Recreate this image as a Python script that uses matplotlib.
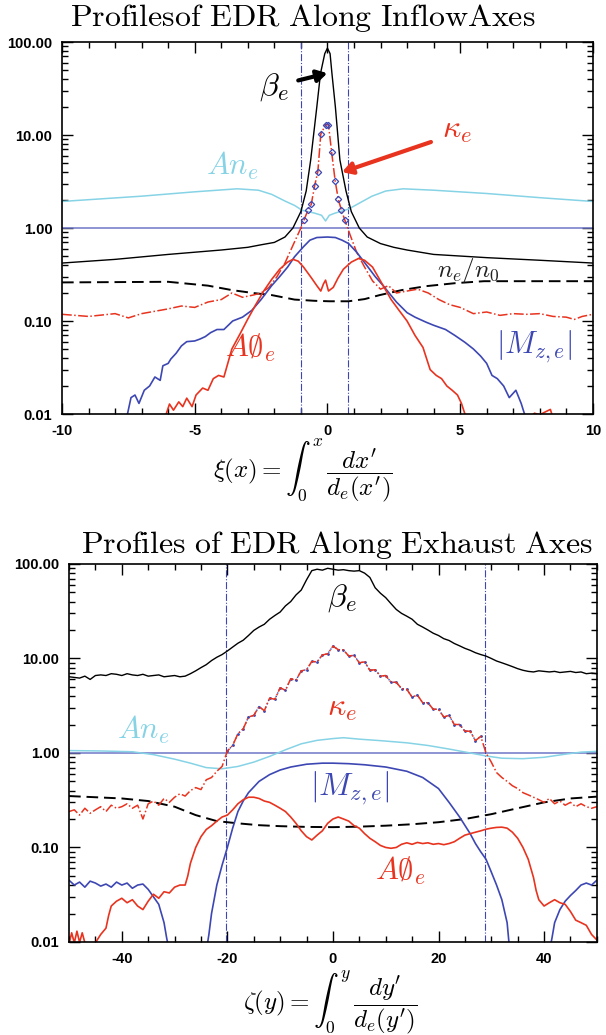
import numpy as np
import matplotlib
matplotlib.use("Agg")
import matplotlib.pyplot as plt
from matplotlib.ticker import MultipleLocator, LogLocator, FixedLocator, FormatStrFormatter, NullFormatter

plt.rcParams['mathtext.fontset'] = 'cm'
plt.rcParams['font.family'] = ['Liberation Sans', 'DejaVu Sans']
plt.rcParams['axes.unicode_minus'] = False

RED = '#e8331f'
BLUE = '#3d47b3'
CYAN = '#86d3e6'
REFBLUE = '#6f76c6'

# ---------------- inflow (top) panel ----------------
beta_in_x = [-10, -8, -6, -4, -3, -2.5, -2, -1.6, -1.3, -1.0, -0.8, -0.63, -0.4, -0.26, -0.1, 0,
             0.1, 0.17, 0.3, 0.47, 0.7, 0.9, 1.2, 1.5, 2, 2.5, 3, 4, 6, 8, 10]
beta_in_y = [0.42, 0.46, 0.52, 0.58, 0.62, 0.66, 0.7, 0.8, 1.0, 1.5, 2.5, 5.4, 20, 46, 75, 86,
             75, 46, 20, 5.4, 2.5, 1.5, 1.0, 0.8, 0.68, 0.62, 0.58, 0.52, 0.48, 0.45, 0.42]

ane_in_x = [-10, -7, -5, -3.4, -2.6, -2.1, -1.6, -1.24, -0.95, -0.5, -0.22, -0.07, 0.07, 0.3, 0.8,
            1.2, 1.68, 2.2, 2.85, 4, 6, 8, 10]
ane_in_y = [1.93, 2.2, 2.45, 2.64, 2.55, 2.3, 1.95, 1.75, 1.55, 1.45, 1.37, 1.19, 1.37, 1.45, 1.6,
            1.85, 2.2, 2.5, 2.64, 2.55, 2.35, 2.12, 1.93]

kappa_in_x = [-10, -9, -8, -7.5, -7, -6, -5.5, -5, -4.5, -4, -3.6, -3.2, -2.8, -2.5, -2.2, -1.9,
              -1.6, -1.3, -1.0, -0.876, -0.73, -0.61, -0.48, -0.36, -0.25, -0.07, 0.04, 0.16,
              0.29, 0.41, 0.53, 0.66, 0.85, 1.1, 1.4, 1.7, 2.0, 2.3, 2.6, 3.0, 3.4, 3.8, 4.2,
              4.6, 5.0, 5.5, 6.0, 6.5, 7.0, 7.5, 8.0, 8.5, 9.0, 9.3, 9.6, 10]
kappa_in_y = [0.118, 0.112, 0.12, 0.108, 0.12, 0.135, 0.145, 0.14, 0.16, 0.17, 0.2, 0.18, 0.19,
              0.2, 0.23, 0.3, 0.42, 0.65, 1.0, 1.23, 1.57, 1.79, 2.86, 4.05, 10.2, 12.9, 12.9,
              6.5, 3.24, 2.03, 1.55, 1.21, 0.85, 0.55, 0.38, 0.27, 0.22, 0.24, 0.2, 0.21, 0.22,
              0.2, 0.17, 0.15, 0.14, 0.12, 0.125, 0.115, 0.12, 0.118, 0.12, 0.112, 0.11, 0.104,
              0.112, 0.118]

aphi_in_x = [-6.1, -5.95, -5.8, -5.6, -5.45, -5.3, -5.1, -4.95, -4.7, -4.5, -4.3, -4.1, -3.9, -3.6,
             -3.3, -3.0, -2.7, -2.4, -2.1, -1.8, -1.5, -1.3, -1.1, -0.9, -0.6, -0.4, -0.25,
             -0.15, -0.07, 0.04, 0.22, 0.4, 0.6, 0.9, 1.17, 1.4, 1.7, 2.1, 2.4, 2.7, 3.0, 3.3,
             3.6, 3.87, 4.1, 4.3, 4.5, 4.7, 4.9, 5.05, 5.18, 5.25, np.nan,
             7.6, 7.8, 8.0, 8.2, 8.4, 8.5]
aphi_in_y = [0.0095, 0.0128, 0.011, 0.0135, 0.012, 0.0148, 0.012, 0.016, 0.019, 0.018, 0.024,
             0.026, 0.025, 0.05, 0.072, 0.105, 0.15, 0.21, 0.28, 0.36, 0.43, 0.46, 0.44, 0.38,
             0.29, 0.24, 0.21, 0.25, 0.275, 0.21, 0.23, 0.29, 0.36, 0.43, 0.47, 0.45, 0.38,
             0.24, 0.17, 0.13, 0.1, 0.07, 0.052, 0.03, 0.026, 0.024, 0.02, 0.018, 0.016, 0.013,
             0.01, 0.008, np.nan,
             0.009, 0.0102, 0.0098, 0.0105, 0.0112, 0.009]

mz_in_x = [-7.55, -7.4, -7.25, -7.1, -6.9, -6.7, -6.5, -6.3, -6.2, -6.0, -5.9, -5.7, -5.5, -5.3,
           -5.0, -4.8, -4.6, -4.4, -4.16, -3.9, -3.57, -3.2, -2.85, -2.5, -2.1, -1.8, -1.5,
           -1.24, -0.9, -0.66, -0.4, 0, 0.3, 0.55, 0.8, 1.1, 1.53, 1.8, 2.1, 2.6, 3.0, 3.3,
           3.72, 4.0, 4.45, 4.8, 5.18, 5.5, 5.77, 6.0, 6.2, 6.4, 6.64, 6.85, 7.1, 7.3, 7.45]
mz_in_y = [0.0095, 0.015, 0.016, 0.013, 0.018, 0.02, 0.025, 0.023, 0.033, 0.035, 0.039, 0.045,
           0.054, 0.06, 0.061, 0.064, 0.068, 0.075, 0.081, 0.081, 0.1, 0.11, 0.13, 0.17, 0.24,
           0.3, 0.38, 0.49, 0.63, 0.74, 0.79, 0.8, 0.79, 0.74, 0.68, 0.55, 0.38, 0.3, 0.24,
           0.16, 0.123, 0.11, 0.097, 0.09, 0.081, 0.07, 0.059, 0.05, 0.042, 0.035, 0.026,
           0.024, 0.02, 0.015, 0.018, 0.013, 0.0095]

ne_in_x = [-10, -8, -6, -4.5, -3.6, -2.8, -2.1, -1.24, -0.5, 0.07, 0.8, 1.4, 1.97, 2.8, 3.72, 4.8,
           5.9, 8, 10]
ne_in_y = [0.26, 0.262, 0.264, 0.24, 0.215, 0.2, 0.19, 0.17, 0.165, 0.163, 0.163, 0.172, 0.19,
           0.215, 0.237, 0.255, 0.268, 0.268, 0.268]

sep_in = [-0.98, 0.77]

# ---------------- exhaust (bottom) panel ----------------
ex_x = list(range(-50, 51))
beta_ex_y = [6.4, 6.3, 6.2, 6.5, 6.0, 6.6, 6.7, 6.6, 6.9, 6.8, 6.6, 6.9, 6.7, 6.6, 6.8, 6.5, 6.6,
             6.7, 6.4, 6.5, 6.6, 6.4, 6.5, 6.9, 7.4, 8.0, 8.6, 9.5, 10.3, 11.0, 12.0, 13.2, 14.5,
             15.6, 17.5, 19.8, 21.5, 23.0, 26.0, 28.5, 31.0, 36.0, 40.0, 47.0, 53.0, 68.0, 85.0,
             88.0, 86.0, 90.0, 88.0, 86.0, 87.0, 85.0, 84.0, 85.0, 80.0, 72.0, 56.0, 49.0, 44.0,
             38.0, 33.0, 30.0, 28.0, 26.0, 23.0, 21.5, 20.0, 18.5, 17.5, 16.2, 15.5, 14.4, 13.6,
             12.8, 12.2, 11.5, 11.0, 10.6, 10.0, 9.4, 9.0, 8.6, 8.2, 7.8, 7.5, 7.3, 7.2, 7.4, 7.3,
             7.2, 7.3, 7.1, 7.2, 7.3, 7.1, 7.2, 6.9, 7.0, 6.9]
kappa_ex_y = [0.24, 0.25, 0.22, 0.26, 0.23, 0.25, 0.27, 0.24, 0.28, 0.26, 0.27, 0.29, 0.26, 0.28,
              0.2, 0.29, 0.31, 0.28, 0.33, 0.30, 0.34, 0.37, 0.35, 0.40, 0.43, 0.41, 0.52, 0.55,
              0.64, 0.72, 1.05, 1.2, 1.6, 1.8, 2.4, 2.5, 3.1, 2.8, 3.8, 3.7, 4.9, 4.6, 6.1, 5.9,
              7.4, 7.6, 9.3, 9.2, 10.9, 11.2, 13.5, 12.4, 12.3, 10.6, 10.8, 9.0, 9.2, 7.5, 7.6,
              6.5, 6.6, 5.6, 5.6, 4.8, 4.7, 3.9, 4.1, 3.4, 3.4, 2.9, 2.9, 2.4, 2.5, 2.0, 2.0,
              1.7, 1.7, 1.35, 1.5, 1.0, 0.8, 0.62, 0.55, 0.5, 0.45, 0.42, 0.38, 0.36, 0.34, 0.32,
              0.3, 0.33, 0.29, 0.31, 0.28, 0.3, 0.27, 0.29, 0.27, 0.26, 0.27]

ane_ex_x = [-50, -44, -38, -34, -30, -27, -24, -21, -18, -15, -12, -9, -6, -3, 0, 2, 5, 9, 14, 18,
            22, 26, 29, 32, 36, 40, 44, 47, 50]
ane_ex_y = [1.06, 1.05, 1.03, 0.96, 0.86, 0.78, 0.7, 0.68, 0.72, 0.8, 0.92, 1.08, 1.25, 1.36, 1.42,
            1.45, 1.4, 1.35, 1.28, 1.2, 1.1, 1.0, 0.93, 0.88, 0.87, 0.9, 0.97, 1.02, 1.04]

mz_ex_x = [-50, -49, -48, -47, -46, -45, -44, -43, -42, -41, -40, -39, -38, -37, -36, -35, -34, -33,
           -32, -31.5, -31, np.nan,
           -24, -23.5, -23, -22, -21, -20, -19, -18, -17, -16, -14, -12, -10, -8, -5, -2, 0, 3,
           6, 10, 14, 17, 20, 22, 24, 26, 27, 28, 29, 30, 31, 32, 33, 33.5, np.nan,
           41, 41.5, 42, 43, 44, 45, 46, 47, 48, 49, 50]
mz_ex_y = [0.045, 0.04, 0.043, 0.038, 0.044, 0.042, 0.039, 0.041, 0.038, 0.043, 0.040, 0.042,
           0.037, 0.04, 0.041, 0.036, 0.03, 0.025, 0.016, 0.011, 0.008, np.nan,
           0.008, 0.012, 0.02, 0.04, 0.065, 0.1, 0.16, 0.24, 0.31, 0.38, 0.5, 0.59, 0.66, 0.71,
           0.76, 0.78, 0.78, 0.77, 0.75, 0.71, 0.64, 0.55, 0.42, 0.3, 0.21, 0.14, 0.11, 0.09,
           0.075, 0.055, 0.04, 0.028, 0.016, 0.008, np.nan,
           0.008, 0.011, 0.016, 0.022, 0.027, 0.031, 0.035, 0.04, 0.042, 0.04, 0.045]

aphi_ex_x = [-50, -49.5, -49, -48.5, -48, -47.5, -47, -46, -45, -44, -43, -42.5, -42, -41, -40,
             -39, -38, -37, -36, -35, -34, -33, -32, -31, -30, -29, -28, -27.5, -27, -26, -25,
             -24, -23, -22, -21, -20, -19, -18, -17, -16, -15, -14, -13, -12, -11, -10, -9, -8,
             -7, -6, -5, -4, -3, -2, -1, 0, 1, 2, 3, 4, 5, 6, 7, 8, 9, 10, 11, 12, 13, 14, 15,
             16, 17, 18, 19, 20, 21, 22, 23, 24, 25, 26, 27, 28, 29, 30, 31, 32, 33, 34, 35, 36,
             37, 38, 38.5, 39, 40, 41, 42, 43, 44, 45, 46, 47, 48, 49, 50]
aphi_ex_y = [0.0095, 0.0125, 0.0098, 0.013, 0.0099, 0.0125, 0.0098, 0.009, 0.0098, 0.012, 0.014,
             0.019, 0.024, 0.027, 0.029, 0.026, 0.028, 0.024, 0.022, 0.027, 0.032, 0.029, 0.034,
             0.033, 0.038, 0.04, 0.04, 0.05, 0.068, 0.1, 0.13, 0.155, 0.17, 0.19, 0.21, 0.22,
             0.25, 0.29, 0.32, 0.34, 0.34, 0.33, 0.31, 0.30, 0.28, 0.26, 0.24, 0.21, 0.18, 0.15,
             0.13, 0.12, 0.135, 0.15, 0.18, 0.2, 0.21, 0.2, 0.19, 0.17, 0.16, 0.14, 0.125, 0.115,
             0.105, 0.1, 0.098, 0.1, 0.108, 0.112, 0.108, 0.113, 0.11, 0.112, 0.108, 0.11, 0.107,
             0.11, 0.115, 0.125, 0.135, 0.14, 0.145, 0.15, 0.156, 0.16, 0.163, 0.164, 0.16,
             0.145, 0.125, 0.1, 0.075, 0.048, 0.035, 0.028, 0.024, 0.026, 0.028, 0.026, 0.025,
             0.021, 0.017, 0.016, 0.015, 0.012, 0.0105]

ne_ex_x = [-50, -45, -40, -35, -30, -26, -22, -18, -14, -10, -5, 0, 5, 10, 15, 20, 25, 30, 35, 40,
           45, 50]
ne_ex_y = [0.35, 0.34, 0.33, 0.31, 0.27, 0.22, 0.19, 0.18, 0.172, 0.168, 0.165, 0.164, 0.166,
           0.17, 0.176, 0.185, 0.2, 0.225, 0.26, 0.3, 0.33, 0.345]

sep_ex = [-20.3, 28.9]

ytick_vals = [0.01, 0.1, 1, 10, 100]


def style_axes(ax, xmin, xmax, major, minor):
    ax.set_yscale('log')
    ax.set_xlim(xmin, xmax)
    ax.set_ylim(0.01, 100)
    ax.xaxis.set_major_locator(MultipleLocator(major))
    ax.xaxis.set_minor_locator(MultipleLocator(minor))
    ax.yaxis.set_major_locator(FixedLocator(ytick_vals))
    ax.yaxis.set_minor_locator(LogLocator(base=10, subs=np.arange(2, 10)))
    ax.yaxis.set_major_formatter(FormatStrFormatter('%.2f'))
    ax.yaxis.set_minor_formatter(NullFormatter())
    ax.tick_params(which='both', direction='in', top=True, right=True, width=1.0)
    ax.tick_params(which='major', length=8, labelsize=10.5, pad=7)
    ax.tick_params(which='minor', length=4)
    for lab in ax.get_xticklabels() + ax.get_yticklabels():
        lab.set_fontweight('bold')
    for sp in ax.spines.values():
        sp.set_linewidth(1.2)


fig = plt.figure(figsize=(6.06, 10.35), dpi=100)

# top panel
ax1 = fig.add_axes([0.1023, 0.6, 0.876, 0.3594])
ax1.axhline(1.0, color=REFBLUE, lw=1.1)
for s in sep_in:
    ax1.axvline(s, color=BLUE, lw=0.8, ls='-.')
ax1.plot(ane_in_x, ane_in_y, color=CYAN, lw=1.1)
ax1.plot(ne_in_x, ne_in_y, color='black', lw=1.4, ls=(0, (6, 3)))
kx = np.array(kappa_in_x)
ky = np.array(kappa_in_y)
ax1.plot(kx, ky, color=RED, lw=1.1, ls='-.')
mk = (kx > -1.0) & (kx < 0.75)
ax1.plot(kx[mk], ky[mk], ls='none', marker='D', ms=3.2, mfc='none', mec=BLUE, mew=0.9)
ax1.plot(mz_in_x, mz_in_y, color=BLUE, lw=1.2)
ax1.plot(aphi_in_x, aphi_in_y, color=RED, lw=1.2)
ax1.plot(beta_in_x, beta_in_y, color='black', lw=1.0)

ax1.text(-2.0, 33, r'$\beta_e$', fontsize=23, ha='center', va='center')
ax1.annotate('', xy=(0.1, 47), xytext=(-1.2, 38),
             arrowprops=dict(arrowstyle='-|>,head_length=0.6,head_width=0.35', color='black', lw=3))
ax1.text(4.9, 11.3, r'$\kappa_e$', fontsize=23, color=RED, ha='center', va='center')
ax1.annotate('', xy=(0.45, 3.9), xytext=(4.0, 8.6),
             arrowprops=dict(arrowstyle='-|>,head_length=0.6,head_width=0.35', color=RED, lw=3))
ax1.text(-3.6, 4.7, r'$An_e$', fontsize=22, color=CYAN, ha='center', va='center')
ax1.text(5.3, 0.35, r'$n_e/n_0$', fontsize=18, color='#222222', ha='center', va='center')
ax1.text(-2.9, 0.052, r'$A\emptyset_e$', fontsize=22, color=RED, ha='center', va='center')
ax1.text(7.8, 0.052, r'$|M_{z,e}|$', fontsize=22, color=BLUE, ha='center', va='center')

style_axes(ax1, -10, 10, 5, 1)
fig.text(0.5, 0.545, r"$\xi(x) = \int_0^x\, \dfrac{dx'}{d_e(x')}$", fontsize=18,
         ha='center', va='center')
fig.text(0.5, 0.983, r'$\mathrm{Profilesof\ EDR\ Along\ InflowAxes}$', fontsize=23,
         ha='center', va='center')

# bottom panel
ax2 = fig.add_axes([0.1139, 0.0899, 0.871, 0.3652])
ax2.axhline(1.0, color=REFBLUE, lw=1.1)
for s in sep_ex:
    ax2.axvline(s, color=BLUE, lw=0.8, ls='-.')
ax2.plot(ane_ex_x, ane_ex_y, color=CYAN, lw=1.1)
ax2.plot(ne_ex_x, ne_ex_y, color='black', lw=1.4, ls=(0, (6, 3)))
ex = np.array(ex_x)
kex = np.array(kappa_ex_y)
mk2 = (ex > sep_ex[0]) & (ex < sep_ex[1])
ax2.plot(ex[mk2], kex[mk2], color=BLUE, lw=1.0, ls=':', marker='.', ms=2)
ax2.plot(ex, kex, color=RED, lw=1.1, ls='-.')
ax2.plot(mz_ex_x, mz_ex_y, color=BLUE, lw=1.2)
ax2.plot(aphi_ex_x, aphi_ex_y, color=RED, lw=1.2)
ax2.plot(ex, beta_ex_y, color='black', lw=1.0)

ax2.text(1.7, 44, r'$\beta_e$', fontsize=23, ha='center', va='center')
ax2.text(1.7, 3.0, r'$\kappa_e$', fontsize=23, color=RED, ha='center', va='center')
ax2.text(-36, 1.75, r'$An_e$', fontsize=22, color=CYAN, ha='center', va='center')
ax2.text(3.2, 0.42, r'$|M_{z,e}|$', fontsize=23, color=BLUE, ha='center', va='center')
ax2.text(12.8, 0.056, r'$A\emptyset_e$', fontsize=22, color=RED, ha='center', va='center')

style_axes(ax2, -50, 50, 20, 5)
fig.text(0.545, 0.031, r"$\zeta(y) = \int_0^y\, \dfrac{dy'}{d_e(y')}$", fontsize=18,
         ha='center', va='center')
fig.text(0.556, 0.473, r'$\mathrm{Profiles\ of\ EDR\ Along\ Exhaust\ Axes}$', fontsize=23,
         ha='center', va='center')

fig.savefig('out.png', dpi=100)
